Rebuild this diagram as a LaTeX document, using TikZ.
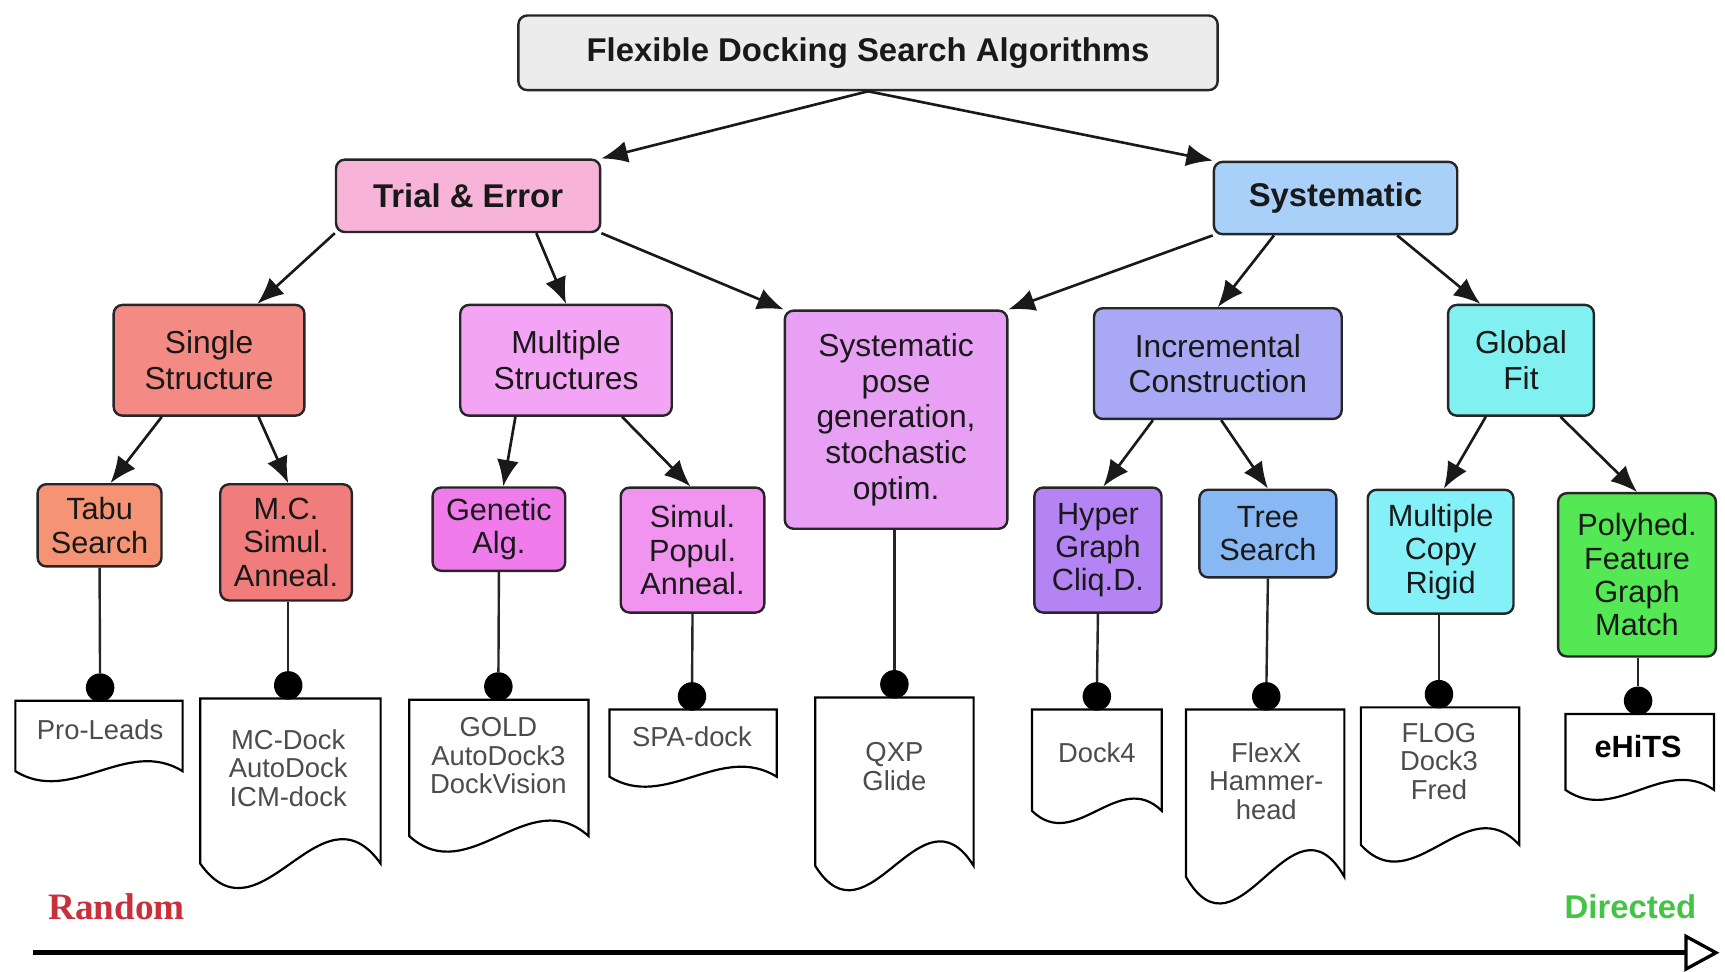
\documentclass[tikz,border=0pt]{standalone}
\usepackage{fontspec}
\setmainfont{Liberation Sans}
\newfontfamily\serifred{Liberation Serif}
\usetikzlibrary{arrows.meta,calc}
\definecolor{cRoot}{HTML}{ECECEC}
\definecolor{cTE}{HTML}{F8B4D8}
\definecolor{cSys}{HTML}{A8D0F8}
\definecolor{cSS}{HTML}{F48A84}
\definecolor{cMS}{HTML}{F4A4F4}
\definecolor{cSP}{HTML}{E8A0F4}
\definecolor{cIC}{HTML}{A8A8F4}
\definecolor{cGF}{HTML}{80F0F0}
\definecolor{cTabu}{HTML}{F49474}
\definecolor{cMC}{HTML}{F07C7C}
\definecolor{cGA}{HTML}{F07CEC}
\definecolor{cSPA}{HTML}{F094F0}
\definecolor{cHG}{HTML}{B484F4}
\definecolor{cTS}{HTML}{88B8F4}
\definecolor{cMCR}{HTML}{84F0F8}
\definecolor{cPF}{HTML}{54E854}
\definecolor{cRand}{HTML}{C8303C}
\definecolor{cDir}{HTML}{44C444}
\newcommand\leafdoc[5]{\draw[docline] (#1,#3) -- (#2,#3) -- (#2,#4) .. controls ({#2-(#2-#1)/3},{#4-3.5*#5}) and ({#1+(#2-#1)/3},{#4+3.5*#5}) .. (#1,#4) -- cycle;}
\begin{document}
\begin{tikzpicture}[x=1bp,y=-1bp,
  boxbase/.style={draw=black!85, line width=2.2pt, rounded corners=8pt, inner sep=0pt, align=center, text=black!90},
  lvA/.style={boxbase, font=\fontsize{30}{32}\selectfont\bfseries},
  lvB/.style={boxbase, font=\fontsize{29}{32.5}\selectfont},
  lvC/.style={boxbase, font=\fontsize{28}{30.5}\selectfont},
  conn/.style={draw=black!90, line width=2.4pt, -{Latex[length=24pt,width=20pt]}},
  stem/.style={draw=black!85, line width=2.2pt},
  dotnode/.style={circle, fill=black, inner sep=0pt, minimum size=26pt},
  docline/.style={draw=black, line width=2pt, fill=white},
  leaftext/.style={font=\fontsize{25}{26}\selectfont, text=black!70, align=center, inner sep=0pt},
]
\fill[white] (0,0) rectangle (1568,883);
\useasboundingbox (0,0) rectangle (1568,883);

% level 0/1
\node[lvA, fill=cRoot, minimum width=638, minimum height=68] (root) at (789,48) {Flexible Docking Search Algorithms};
\node[lvA, fill=cTE, minimum width=241, minimum height=66] (te) at (425.5,178) {Trial \& Error};
\node[lvA, fill=cSys, minimum width=222, minimum height=66] (sys) at (1214,180) {Systematic};

% level 2
\node[lvB, fill=cSS, minimum width=174, minimum height=101] (ss) at (190,327.5) {Single\\Structure};
\node[lvB, fill=cMS, minimum width=193, minimum height=101] (ms) at (514.5,327.5) {Multiple\\Structures};
\node[lvB, fill=cSP, minimum width=203, minimum height=199] (sp) at (814.5,381.5) {Systematic\\pose\\generation,\\stochastic\\optim.};
\node[lvB, fill=cIC, minimum width=226, minimum height=101] (ic) at (1107,330.5) {Incremental\\Construction};
\node[lvB, fill=cGF, minimum width=133, minimum height=101] (gf) at (1382.5,327.5) {Global\\Fit};

% level 3
\node[lvC, fill=cTabu, minimum width=113, minimum height=75] (tabu) at (90.5,477.5) {Tabu\\Search};
\node[lvC, fill=cMC, minimum width=120, minimum height=106] (mc) at (260,493) {M.C.\\Simul.\\Anneal.};
\node[lvC, fill=cGA, minimum width=121, minimum height=76] (ga) at (453.5,481) {Genetic\\Alg.};
\node[lvC, fill=cSPA, minimum width=131, minimum height=114] (spa) at (629.5,500) {Simul.\\Popul.\\Anneal.};
\node[lvC, fill=cHG, minimum width=116, minimum height=114] (hg) at (998,500) {Hyper\\Graph\\Cliq.D.};
\node[lvC, fill=cTS, minimum width=125, minimum height=80] (ts) at (1152.5,485) {Tree\\Search};
\node[lvC, fill=cMCR, minimum width=133, minimum height=113] (mcr) at (1309.5,501.5) {Multiple\\Copy\\Rigid};
\node[lvC, fill=cPF, minimum width=144, minimum height=149] (pf) at (1488,522.5) {Polyhed.\\Feature\\Graph\\Match};

% arrows
\draw[conn] (root.south) -- (te.north east);
\draw[conn] (root.south) -- (sys.north west);
\draw[conn] (te.south west) -- ($(ss.north)+(44,0)$);
\draw[conn] ($(te.south)+(62,0)$) -- (ms.north);
\draw[conn] (te.south east) -- (sp.north west);
\draw[conn] (sys.south west) -- (sp.north east);
\draw[conn] ($(sys.south)+(-56,0)$) -- (ic.north);
\draw[conn] ($(sys.south)+(56,0)$) -- ($(gf.north)+(-37,0)$);
\draw[conn] ($(ss.south)+(-43,0)$) -- ($(tabu.north)+(10,0)$);
\draw[conn] ($(ss.south)+(45,0)$) -- ($(mc.north)+(2,0)$);
\draw[conn] ($(ms.south)+(-46,0)$) -- ($(ga.north)+(4,0)$);
\draw[conn] ($(ms.south)+(51,0)$) -- ($(spa.north)+(-2,0)$);
\draw[conn] ($(ic.south)+(-59,0)$) -- ($(hg.north)+(5,0)$);
\draw[conn] ($(ic.south)+(3,0)$) -- (ts.north);
\draw[conn] ($(gf.south)+(-32,0)$) -- ($(mcr.north)+(3,0)$);
\draw[conn] ($(gf.south)+(36,0)$) -- (pf.north);

% leaf documents
\leafdoc{14}{166}{637}{701}{9}
\leafdoc{182}{346}{635}{785}{22}
\leafdoc{372}{535}{636}{760}{14}
\leafdoc{554}{706}{645}{706}{9}
\leafdoc{741}{885}{634}{787}{22}
\leafdoc{938}{1056}{645}{737}{11}
\leafdoc{1078}{1222}{645}{797}{24}
\leafdoc{1237}{1381}{643}{768}{15}
\leafdoc{1423}{1558}{649}{718}{9}

\node[leaftext] (l1) at (91,663) {Pro-Leads};
\node[leaftext] (l2) at (262,698) {MC-Dock\\AutoDock\\ICM-dock};
\node[leaftext] (l3) at (453,687) {GOLD\\AutoDock3\\DockVision};
\node[leaftext] (l4) at (629,670) {SPA-dock};
\node[leaftext] (l5) at (813,697) {QXP\\Glide};
\node[leaftext] (l6) at (997,684) {Dock4};
\node[leaftext] (l7) at (1151,710) {FlexX\\Hammer-\\head};
\node[leaftext] (l8) at (1308,692) {FLOG\\Dock3\\Fred};
\node[leaftext, font=\fontsize{28}{28}\selectfont\bfseries, text=black] (l9) at (1489,679) {eHiTS};

% stems with dots
\node[dotnode] (d1) at (91,625) {};
\node[dotnode] (d2) at (262,623) {};
\node[dotnode] (d3) at (453,624) {};
\node[dotnode] (d4) at (629,633) {};
\node[dotnode] (d5) at (813,622) {};
\node[dotnode] (d6) at (997,633) {};
\node[dotnode] (d7) at (1151,633) {};
\node[dotnode] (d8) at (1308,631) {};
\node[dotnode] (d9) at (1489,637) {};
\draw[stem] (tabu.south) -- (d1);
\draw[stem] ($(mc.south)+(2,0)$) -- (d2);
\draw[stem] (ga.south) -- (d3);
\draw[stem] (spa.south) -- (d4);
\draw[stem] ($(sp.south)+(-1.5,0)$) -- (d5);
\draw[stem] (hg.south) -- (d6);
\draw[stem] (ts.south) -- (d7);
\draw[stem] ($(mcr.south)+(-1.5,0)$) -- (d8);
\draw[stem] ($(pf.south)+(1,0)$) -- (d9);

% bottom axis
\node[font=\serifred\bfseries\fontsize{34}{34}\selectfont, text=cRand] (rnd) at (106,824) {Random};
\node[font=\bfseries\fontsize{30}{30}\selectfont, text=cDir] (dir) at (1482,824) {Directed};
\coordinate (axL) at (30,866);
\coordinate (axR) at (1563,866);
\draw[line width=4.5pt, -{Triangle[open,length=32pt,width=34pt,line width=3pt]}] (axL) -- (axR);
\end{tikzpicture}
\end{document}
